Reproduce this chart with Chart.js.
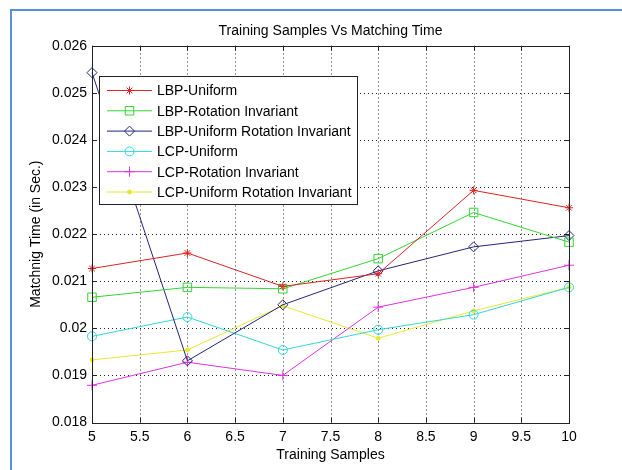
<!DOCTYPE html>
<html>
<head>
<meta charset="utf-8">
<script src="https://cdn.jsdelivr.net/npm/chart.js@4/dist/chart.umd.min.js"></script>
<style>
  html, body { margin: 0; padding: 0; background: #ffffff; }
  #wrap { position: relative; width: 622px; height: 470px; overflow: hidden; }
  #frame { position: absolute; left: 10px; top: 9px; right: 0; bottom: 0;
           border-top: 2px solid #5b8fd6; border-left: 2px solid #5b8fd6; }
  #chart { position: absolute; left: 0; top: 0; }
</style>
</head>
<body>
<div id="wrap">
  <div id="frame"></div>
  <canvas id="chart" width="622" height="470"></canvas>
</div>
<script>
// values
var samples = [5, 6, 7, 8, 9, 10];
var lbpUniform      = [0.02127, 0.02160, 0.02089, 0.02116, 0.02293, 0.02256];
var lbpRotInv       = [0.02066, 0.02087, 0.02084, 0.02148, 0.02246, 0.02183];
var lbpUniformRot   = [0.02543, 0.01931, 0.02050, 0.02122, 0.02173, 0.02197];
var lcpUniform      = [0.01983, 0.02024, 0.01954, 0.01997, 0.02029, 0.02087];
var lcpRotInv       = [0.01879, 0.01928, 0.01900, 0.02045, 0.02087, 0.02134];
var lcpUniformRot   = [0.01933, 0.01954, 0.02048, 0.01979, 0.02037, 0.02087];

var xTickValues = [5, 5.5, 6, 6.5, 7, 7.5, 8, 8.5, 9, 9.5, 10];
var yTickValues = [0.018, 0.019, 0.020, 0.021, 0.022, 0.023, 0.024, 0.025, 0.026];

var FONT = "'Liberation Sans', Arial, Helvetica, sans-serif";

function pts(ys) {
  return samples.map(function (x, i) { return { x: x, y: ys[i] }; });
}

function series(label, ys, color, style, radius, fill) {
  return {
    label: label,
    data: pts(ys),
    borderColor: color,
    backgroundColor: color,
    borderWidth: 1,
    pointStyle: style,
    pointRadius: radius,
    pointBorderColor: color,
    pointBorderWidth: 1,
    pointBackgroundColor: fill ? color : 'rgba(0,0,0,0)',
    tension: 0,
    clip: false
  };
}

var datasets = [
  series('LBP-Uniform', lbpUniform, '#dd2222', 'star', 4, false),
  series('LBP-Rotation Invariant', lbpRotInv, '#33d633', 'rect', 6, false),
  series('LBP-Uniform Rotation Invariant', lbpUniformRot, '#24247e', 'rectRot', 5, false),
  series('LCP-Uniform', lcpUniform, '#33d6d6', 'circle', 4.5, false),
  series('LCP-Rotation Invariant', lcpRotInv, '#dd33dd', 'cross', 5, false),
  series('LCP-Uniform Rotation Invariant', lcpUniformRot, '#e8e833', 'circle', 2, true)
];

// dotted grid, box, inner tick marks and the boxed legend, MATLAB style
var matlabAxes = {
  id: 'matlabAxes',
  beforeDatasetsDraw: function (chart) {
    var ctx = chart.ctx, a = chart.chartArea;
    var xs = chart.scales.x, ys = chart.scales.y;
    ctx.save();
    ctx.strokeStyle = '#222';
    ctx.lineWidth = 1;
    ctx.setLineDash([1, 3]);
    ctx.beginPath();
    xTickValues.forEach(function (v) {
      var px = Math.round(xs.getPixelForValue(v)) + 0.5;
      ctx.moveTo(px, a.bottom); ctx.lineTo(px, a.top);
    });
    yTickValues.forEach(function (v) {
      var py = Math.round(ys.getPixelForValue(v)) + 0.5;
      ctx.moveTo(a.left, py); ctx.lineTo(a.right, py);
    });
    ctx.stroke();
    ctx.restore();
  },
  afterDatasetsDraw: function (chart) {
    var ctx = chart.ctx, a = chart.chartArea;
    var xs = chart.scales.x, ys = chart.scales.y;
    ctx.save();
    ctx.strokeStyle = '#222';
    ctx.lineWidth = 1;
    ctx.beginPath();
    xTickValues.forEach(function (v) {
      var px = Math.round(xs.getPixelForValue(v)) + 0.5;
      ctx.moveTo(px, a.bottom); ctx.lineTo(px, a.bottom - 5);
      ctx.moveTo(px, a.top); ctx.lineTo(px, a.top + 5);
    });
    yTickValues.forEach(function (v) {
      var py = Math.round(ys.getPixelForValue(v)) + 0.5;
      ctx.moveTo(a.left, py); ctx.lineTo(a.left + 5, py);
      ctx.moveTo(a.right, py); ctx.lineTo(a.right - 5, py);
    });
    ctx.stroke();
    ctx.strokeRect(Math.round(a.left) + 0.5, Math.round(a.top) + 0.5,
                   Math.round(a.right - a.left), Math.round(a.bottom - a.top));

    // legend
    var box = { left: 99.5, top: 76.5, width: 258, height: 128 };
    ctx.fillStyle = '#fff';
    ctx.fillRect(box.left, box.top, box.width, box.height);
    ctx.strokeStyle = '#222';
    ctx.strokeRect(box.left, box.top, box.width, box.height);
    ctx.font = '14px ' + FONT;
    ctx.textBaseline = 'middle';
    chart.data.datasets.forEach(function (ds, i) {
      var y = box.top + 14 + i * 20.3;
      ctx.strokeStyle = ds.borderColor;
      ctx.lineWidth = 1;
      ctx.beginPath();
      ctx.moveTo(107, y); ctx.lineTo(152, y);
      ctx.stroke();
      ctx.fillStyle = ds.pointBackgroundColor;
      Chart.helpers.drawPoint(ctx, {
        pointStyle: ds.pointStyle, radius: ds.pointRadius, rotation: 0, borderWidth: 1
      }, 129.5, y);
      ctx.fillStyle = '#000';
      ctx.fillText(ds.label, 157, y + 1);
    });
    ctx.restore();
  }
};

new Chart(document.getElementById('chart').getContext('2d'), {
  type: 'line',
  data: { datasets: datasets },
  options: {
    responsive: false,
    animation: false,
    layout: { padding: { left: 24, right: 53, top: 0, bottom: 6 } },
    plugins: {
      legend: { display: false },
      tooltip: { enabled: false },
      title: {
        display: true,
        fullSize: false,
        text: 'Training Samples Vs Matching Time',
        color: '#000',
        font: { family: FONT, size: 14, weight: 'normal' },
        padding: { top: 23, bottom: 6 }
      }
    },
    scales: {
      x: {
        type: 'linear',
        min: 5,
        max: 10,
        afterBuildTicks: function (s) { s.ticks = xTickValues.map(function (v) { return { value: v }; }); },
        afterFit: function (s) { s.height = 41.5; },
        ticks: {
          color: '#000',
          padding: 6,
          maxRotation: 0,
          font: { family: FONT, size: 14 },
          callback: function (v) { return String(v); }
        },
        grid: { display: false, drawTicks: false },
        border: { display: false },
        title: {
          display: true,
          text: 'Training Samples',
          color: '#000',
          font: { family: FONT, size: 14 },
          padding: { top: 2, bottom: 0 }
        }
      },
      y: {
        min: 0.018,
        max: 0.026,
        afterBuildTicks: function (s) { s.ticks = yTickValues.map(function (v) { return { value: v }; }); },
        afterFit: function (s) { s.width = 68; },
        ticks: {
          color: '#000',
          padding: 5,
          font: { family: FONT, size: 14 },
          callback: function (v) { return String(+v.toFixed(3)); }
        },
        grid: { display: false, drawTicks: false },
        border: { display: false },
        title: {
          display: true,
          text: 'Matchnig Time (in Sec.)',
          color: '#000',
          font: { family: FONT, size: 14 },
          padding: { top: 4, bottom: 4 }
        }
      }
    }
  },
  plugins: [matlabAxes]
});
</script>
</body>
</html>
